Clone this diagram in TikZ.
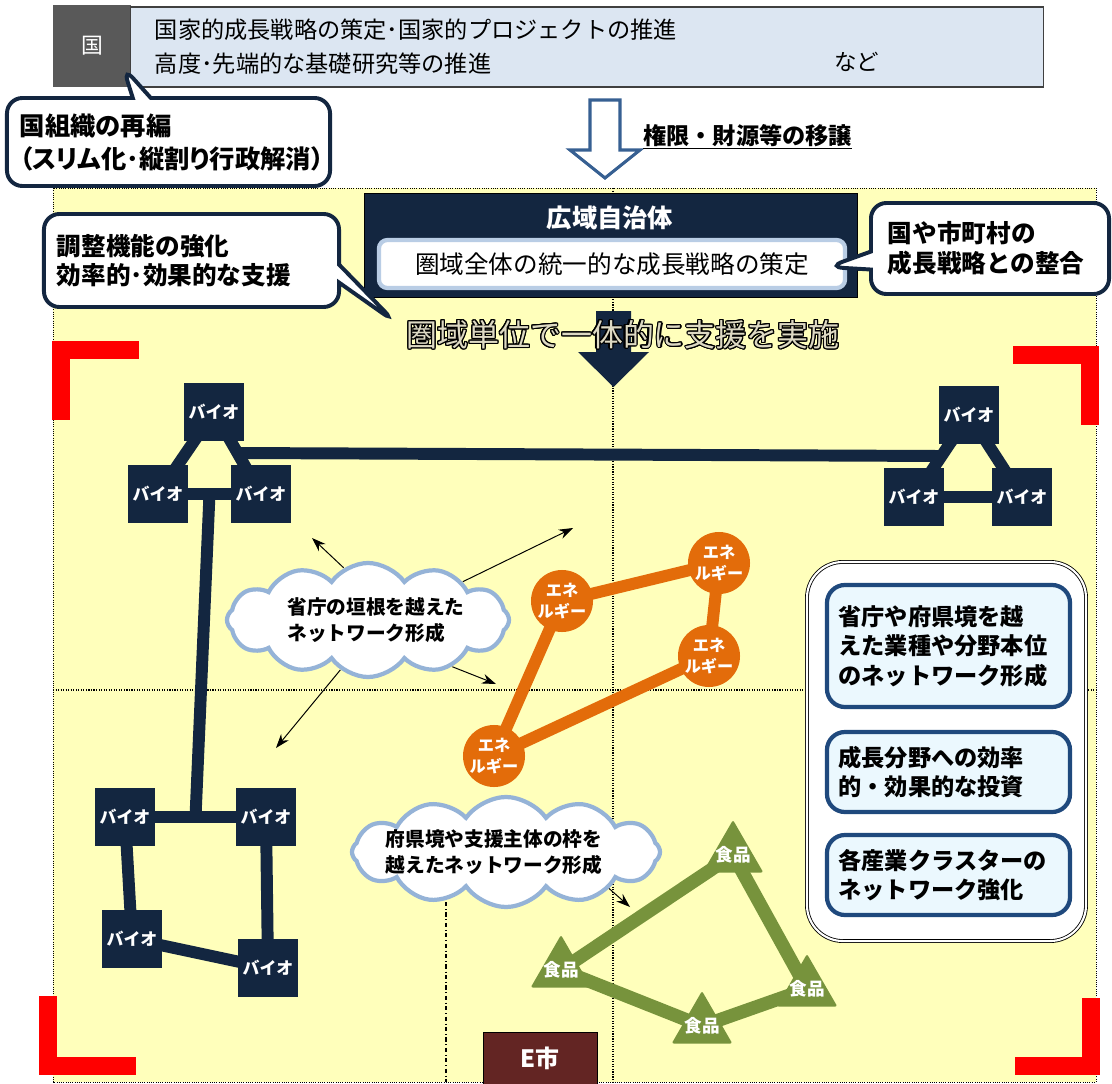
\documentclass[tikz,border=0pt]{standalone}
\usepackage{fontspec}
\setmainfont{Noto Sans CJK JP}
\newfontfamily\pjp{Noto Sans CJK JP}[RawFeature=+palt]
\usepackage[copies]{contour}
\usepackage{tikz}
\usetikzlibrary{arrows.meta,%
                shapes,positioning,calc}

\definecolor{navyc}{RGB}{19,38,64}
\definecolor{yellowc}{RGB}{255,255,187}
\definecolor{enec}{RGB}{227,108,10}
\definecolor{foodc}{RGB}{119,147,60}
\definecolor{kumoc}{RGB}{149,179,215}
\definecolor{ecityc}{RGB}{99,37,35}
\definecolor{panelc}{RGB}{31,73,125}
\definecolor{panelfillc}{RGB}{235,248,254}
\definecolor{topfillc}{RGB}{220,230,242}
\definecolor{grayc}{RGB}{89,89,89}
\definecolor{lightbluec}{RGB}{185,205,229}
\definecolor{hollowc}{RGB}{55,96,146}
\definecolor{outlinefillc}{RGB}{221,217,195}

\pgfdeclarelayer{back}
\pgfdeclarelayer{links}
\pgfsetlayers{back,links,main}

\contourlength{0.8pt}
\contournumber{16}

\tikzset{
  bio/.style={rectangle, fill=navyc, text=white, inner sep=0pt,
    minimum width=1.5cm, minimum height=1.45cm,
    font=\bfseries\fontsize{12}{14}\selectfont},
  biolink/.style={navyc, line width=8.5pt},
  ene/.style={circle, fill=enec, text=white, inner sep=0pt, align=center,
    minimum size=1.55cm, font=\bfseries\fontsize{11.5}{15}\selectfont},
  enelink/.style={enec, line width=8.5pt},
  food/.style={regular polygon, regular polygon sides=3, fill=foodc,
    inner sep=0pt, minimum size=1.75cm, rounded corners=1.5pt},
  foodlabel/.style={text=white, font=\bfseries\fontsize{12.5}{14}\selectfont},
  foodlink/.style={foodc, line width=9.5pt},
  fukidashi/.style={rectangle callout, draw=navyc, line width=2.8pt, fill=white,
    rounded corners=11pt, callout pointer width=0.45cm, align=left, inner sep=0pt,
    font=\bfseries\fontsize{17.5}{21}\selectfont},
  kumo/.style={cloud, cloud puffs=12, cloud puff arc=110, cloud ignores aspect,
    draw=kumoc, line width=3pt, fill=white, inner sep=0pt},
  kumotext/.style={align=left, inner sep=0pt, font=\bfseries\fontsize{14}{18.5}\selectfont},
  kumoarrow/.style={-{Stealth[length=10pt,width=7pt]}, line width=0.7pt},
  panelbox/.style={draw=panelc, line width=3pt, fill=panelfillc, rounded corners=0.45cm,
    minimum width=6.075cm, text width=5.5cm, align=left, inner sep=0pt,
    font=\bfseries\fontsize{16.5}{21}\selectfont},
  redbracket/.style={red, line width=12.8pt, line join=miter},
  grid/.style={densely dotted, line width=0.8pt}
}

\begin{document}
\begin{tikzpicture}[x=0.025cm,y=-0.025cm]
\useasboundingbox (0,0) rectangle (1112,1084);

\begin{pgfonlayer}{back}
\fill[yellowc] (53,188) rectangle (1096,1082);
\draw[densely dotted, line width=0.6pt] (53,188) rectangle (1096,1082);
\draw[grid] (613,188) -- (613,1082);
\draw[grid] (53,690) -- (1096,690);
\draw[dash dot, line width=0.8pt] (446,850) -- (446,1082);
\draw[redbracket] (61,420) |- (139,350);
\draw[redbracket] (1013,355) -| (1090,425);
\draw[redbracket] (47.5,996) |- (136,1066);
\draw[redbracket] (1015,1066) -| (1091,998);
\end{pgfonlayer}

\node[fill=grayc, text=white, minimum width=1.95cm, minimum height=2.05cm,
  font=\fontsize{15.5}{18}\selectfont] (koku) at (92,46) {国};
\node[fill=topfillc, draw=black!75, line width=0.8pt, minimum width=22.8cm, minimum height=2cm,
  text width=21.6cm, align=left, inner sep=0pt, font=\fontsize{16.5}{24}\selectfont] (kokutext) at (587,47)
  {国家的成長戦略の策定･国家的プロジェクトの推進\\高度･先端的な基礎研究等の推進};
\node[anchor=west, inner sep=0pt, font=\fontsize{16}{18}\selectfont] (nado) at (834,62) {など};

\node[fukidashi, minimum width=8.075cm, minimum height=2.2cm, text width=7.425cm,
  callout absolute pointer={(123,67)}, font=\pjp\bfseries\fontsize{18}{23.5}\selectfont] (saihen) at (168.5,142)
  {国組織の再編\\（スリム化･縦割り行政解消）};

\draw[hollowc, line width=2.2pt, fill=white, line join=miter]
  (590,100) -- (620,100) -- (620,150) -- (640,150) -- (605,178) -- (570,150) -- (590,150) -- cycle;
\node[anchor=west, inner sep=0pt, font=\bfseries\fontsize{16.5}{18}\selectfont] (jouto) at (643,137)
  {\underline{権限・財源等の移譲}};

\node[fill=navyc, draw=black, minimum width=12.325cm, minimum height=2.6cm] (kouiki) at (610.5,245) {};
\node[text=white, font=\bfseries\fontsize{18}{20}\selectfont] (kouikititle) at (610,218) {広域自治体};
\node[draw=lightbluec, line width=3pt, fill=white, rounded corners=6pt, minimum width=11.65cm,
  minimum height=1.2cm, font=\fontsize{17.5}{20}\selectfont] (senryaku) at (612,264)
  {圏域全体の統一的な成長戦略の策定};

\node[fukidashi, minimum width=5.95cm, minimum height=2.275cm, text width=5.1cm,
  callout absolute pointer={(828,267)}] (seigou) at (990,248.5)
  {国や市町村の\\成長戦略との整合};
\node[fukidashi, minimum width=7.375cm, minimum height=2.325cm, text width=6.725cm,
  callout absolute pointer={(395,322)}] (chousei) at (191.5,260.5)
  {調整機能の強化\\効率的･効果的な支援};

\fill[navyc] (596,311) -- (631,311) -- (631,352) -- (649,352) -- (613.5,387) -- (578,352) -- (596,352) -- cycle;
\node[text=outlinefillc, font=\fontsize{22}{24}\selectfont] (jisshi) at (623,335)
  {\contour{black}{圏域単位で一体的に支援を実施}};

\node[bio] (b1) at (214,412) {バイオ};
\node[bio] (b2) at (158,494) {バイオ};
\node[bio] (b3) at (261,494) {バイオ};
\node[bio] (r1) at (969,415) {バイオ};
\node[bio] (r2) at (914,497) {バイオ};
\node[bio] (r3) at (1022,497) {バイオ};
\node[bio] (b4) at (125,817) {バイオ};
\node[bio] (b5) at (266,817) {バイオ};
\node[bio] (b6) at (132,939) {バイオ};
\node[bio] (b7) at (268,968) {バイオ};

\node[ene] (e1) at (562,601) {エネ\\ルギー};
\node[ene] (e2) at (719,563) {エネ\\ルギー};
\node[ene] (e3) at (709,656) {エネ\\ルギー};
\node[ene] (e4) at (494,756) {エネ\\ルギー};

\node[food, label={[foodlabel]center:食品}] (f1) at (733,855) {};
\node[food, label={[foodlabel]center:食品}] (f2) at (561,970) {};
\node[food, label={[foodlabel]center:食品}] (f3) at (702,1026) {};
\node[food, label={[foodlabel]center:食品}] (f4) at (807,989) {};

\begin{pgfonlayer}{links}
\draw[biolink] (b1.center) -- (b2.center);
\draw[biolink] (b1.center) -- (b3.center);
\draw[biolink] (b2.center) -- (b3.center);
\draw[biolink] (r1.center) -- (r2.center);
\draw[biolink] (r1.center) -- (r3.center);
\draw[biolink] (r2.center) -- (r3.center);
\draw[biolink] ($(b1)!.5!(b3)$) -- ($(r1)!.5!(r2)$);
\draw[biolink] ($(b2)!.5!(b3)$) -- ($(b4)!.5!(b5)$);
\draw[biolink] (b4.center) -- (b5.center);
\draw[biolink] (b4.center) -- (b6.center);
\draw[biolink] (b5.center) -- (b7.center);
\draw[biolink] (b6.center) -- (b7.center);
\draw[enelink] (e1.center) -- (e2.center);
\draw[enelink] (e2.center) -- (e3.center);
\draw[enelink] (e3.center) -- (e4.center);
\draw[enelink] (e4.center) -- (e1.center);
\draw[foodlink] (f1.center) -- (f2.center);
\draw[foodlink] (f1.center) -- (f4.center);
\draw[foodlink] (f2.center) -- (f3.center);
\draw[foodlink] (f3.center) -- (f4.center);
\end{pgfonlayer}

\node[kumo, minimum width=7.05cm, minimum height=2.85cm,
  label={[kumotext, xshift=0.2cm]center:省庁の垣根を越えた\\ネットワーク形成}] (kumo1) at (368,620) {};
\node[kumo, minimum width=7.7cm, minimum height=2.75cm,
  label={[kumotext, xshift=-0.3cm]center:府県境や支援主体の枠を\\越えたネットワーク形成}] (kumo2) at (506,852) {};

\coordinate (y1) at (312,538);
\coordinate (y2) at (573,528);
\coordinate (y3) at (496,684);
\coordinate (y4) at (276,748);
\coordinate (y5) at (630,907);
\draw[kumoarrow] (kumo1.115) -- (y1);
\draw[kumoarrow] (kumo1.22) -- (y2);
\draw[kumoarrow] (kumo1.-29) -- (y3);
\draw[kumoarrow] (kumo1.241) -- (y4);
\begin{pgfonlayer}{links}
\draw[kumoarrow] ($(kumo2)+(90,25)$) -- (y5);
\end{pgfonlayer}

\node[draw=black, double=white, double distance=1.5pt, line width=0.6pt, fill=white,
  rounded corners=0.9cm, minimum width=6.975cm, minimum height=9.475cm] (panel) at (946.5,751.5) {};
\node[panelbox, minimum height=3.05cm] (p1) at (948.5,646)
  {省庁や府県境を越\\えた業種や分野本位\\のネットワーク形成};
\node[panelbox, minimum height=2cm] (p2) at (948.5,772)
  {成長分野への効率\\的・効果的な投資};
\node[panelbox, minimum height=2cm] (p3) at (948.5,875)
  {各産業クラスターの\\ネットワーク強化};

\node[fill=ecityc, draw=black, text=white, minimum width=2.85cm, minimum height=1.3cm,
  font=\bfseries\fontsize{17}{20}\selectfont] (ecity) at (540,1058) {E市};
\end{tikzpicture}
\end{document}
